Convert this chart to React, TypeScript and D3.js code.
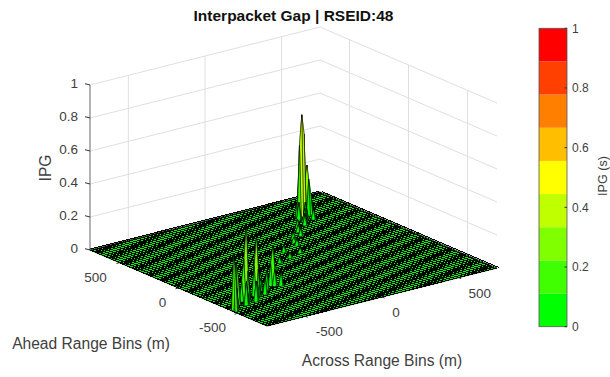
import React from "react";
import * as d3 from "d3";

const TITLE = "Interpacket Gap | RSEID:48";
const RANGE_TICKS = [-500, 0, 500];
const Z_TICKS = [0, 0.2, 0.4, 0.6, 0.8, 1];
const COLORS = ["#00ff00", "#40ff00", "#80ff00", "#bfff00", "#ffff00", "#ffbf00", "#ff8000", "#ff4000", "#ff0000"];
const BIN_SIZE = 15;
const MESH_SIZE = 24;
const EXTENT = 750;

// non-zero surface samples
const peakAcross = [
  433, 443, 423, 433, 433, 423, 443, 413, 453, 403, 413, 453,
  477, 487, 467, 477, 477, 497, 457, 487, 507,
  440, 420, 460, 400,
  308, 200, 153, 33, -5, -84, 257, 373, -180, 290, 170, 90,
  -591, -581, -601, -591, -591, -571, -611,
  -498, -488, -508, -498, -498, -478,
  -336, -326, -346, -336, -336,
  -750, -740, -740, -750,
  -672, -662, -682, -672,
  -630, -620, -560, -550, -530, -450, -440, -400, -390, -300, -290, -700, -650, -520, -420,
];
const peakAhead = [
  499, 499, 499, 509, 489, 489, 489, 489, 509, 479, 509, 479,
  505, 505, 505, 515, 495, 495, 495, 525, 505,
  460, 450, 440, 440,
  377, 262, 160, 113, 24, 5, 277, 387, -79, 330, 210, 60,
  -358, -358, -358, -348, -368, -358, -358,
  -330, -330, -330, -320, -340, -330,
  -256, -256, -256, -246, -266,
  -469, -469, -459, -459,
  -394, -394, -394, -384,
  -420, -400, -400, -300, -380, -350, -280, -300, -220, -280, -200, -440, -330, -270, -250,
];
const peakValue = [
  0.62, 0.5, 0.44, 0.36, 0.3, 0.22, 0.2, 0.14, 0.15, 0.1, 0.12, 0.08,
  0.3, 0.22, 0.2, 0.18, 0.22, 0.12, 0.15, 0.1, 0.08,
  0.1, 0.07, 0.06, 0.05,
  0.05, 0.04, 0.035, 0.04, 0.03, 0.035, 0.045, 0.06, 0.03, 0.04, 0.03, 0.03,
  0.45, 0.36, 0.25, 0.2, 0.18, 0.12, 0.12,
  0.36, 0.26, 0.18, 0.14, 0.16, 0.1,
  0.24, 0.16, 0.13, 0.1, 0.1,
  0.35, 0.22, 0.12, 0.15,
  0.26, 0.16, 0.12, 0.1,
  0.14, 0.1, 0.12, 0.07, 0.1, 0.1, 0.07, 0.12, 0.08, 0.08, 0.06, 0.12, 0.08, 0.1, 0.07,
];

const W = 610, H = 377;
const LEFT = { x: 90, y: 250 }, BACK = { x: 320, y: 192 }, RIGHT = { x: 497, y: 268 };
const zPx = d3.scaleLinear().domain([0, 1]).range([0, 165]);
const aScale = d3.scaleLinear().domain([-EXTENT, EXTENT]).range([0, 1]);
const bScale = d3.scaleLinear().domain([EXTENT, -EXTENT]).range([0, 1]);
function proj(a: number, b: number, z = 0): [number, number] {
  const u = aScale(a), v = bScale(b);
  return [
    LEFT.x + u * (BACK.x - LEFT.x) + v * (RIGHT.x - BACK.x),
    LEFT.y + u * (BACK.y - LEFT.y) + v * (RIGHT.y - BACK.y) - zPx(z),
  ];
}
const bar = d3.scaleLinear().domain([0, 1]).range([326.7, 28.3]);
const colorOf = (v: number) => COLORS[Math.min(COLORS.length - 1, Math.floor(v * COLORS.length))];
const line = d3.line();

const n = Math.round((2 * EXTENT) / BIN_SIZE);
const snap = (v: number) => Math.max(0, Math.min(n, Math.round((v + EXTENT) / BIN_SIZE)));
const heights = new Map<string, number>();
peakValue.forEach((v, k) => {
  const key = snap(peakAcross[k]) + "," + snap(peakAhead[k]);
  heights.set(key, Math.max(v, heights.get(key) ?? 0));
});
const zAt = (i: number, j: number) => heights.get(i + "," + j) ?? 0;
const pos = (i: number) => -EXTENT + i * BIN_SIZE;

function buildGrid() {
  const p = d3.path();
  const m = Math.round((2 * EXTENT) / MESH_SIZE);
  for (let i = 0; i <= m; i++) {
    const t = -EXTENT + i * MESH_SIZE;
    const [x0, y0] = proj(t, -EXTENT), [x1, y1] = proj(t, EXTENT);
    p.moveTo(x0, y0); p.lineTo(x1, y1);
    const [x2, y2] = proj(-EXTENT, t), [x3, y3] = proj(EXTENT, t);
    p.moveTo(x2, y2); p.lineTo(x3, y3);
  }
  return p.toString();
}
function buildCells() {
  const seen = new Set<string>();
  const cells: { d: string; fill: string; order: number }[] = [];
  heights.forEach((_, key) => {
    const [vi, vj] = key.split(",").map(Number);
    for (let i = vi - 1; i <= vi; i++) for (let j = vj - 1; j <= vj; j++) {
      const k = i + "," + j;
      if (i < 0 || j < 0 || i >= n || j >= n || seen.has(k)) continue;
      seen.add(k);
      const zs = [zAt(i, j), zAt(i + 1, j), zAt(i + 1, j + 1), zAt(i, j + 1)];
      const pts = [
        proj(pos(i), pos(j), zs[0]), proj(pos(i + 1), pos(j), zs[1]),
        proj(pos(i + 1), pos(j + 1), zs[2]), proj(pos(i), pos(j + 1), zs[3]),
      ] as [number, number][];
      cells.push({
        d: line(pts)! + "Z",
        fill: colorOf(d3.mean(zs)! * 1.3),
        order: proj(pos(i) + BIN_SIZE / 2, pos(j) + BIN_SIZE / 2)[1],
      });
    }
  });
  return cells.sort((p, q) => p.order - q.order);
}

const FONT = "'Liberation Sans', Arial, sans-serif";
const GRAY = "#404040";
const GRID = "#dfdfdf";
const AHEAD_LABEL_DX = [-25, -16, -24];
const ACROSS_LABEL_DX = [24, 14, 21];

export default function App() {
  const corners = [proj(-EXTENT, EXTENT), proj(EXTENT, EXTENT), proj(EXTENT, -EXTENT), proj(-EXTENT, -EXTENT)] as [number, number][];
  return (
    <svg width={W} height={H} style={{ position: "absolute", left: 0, top: 0, background: "#fff" }} fontFamily={FONT}>
      {/* walls */}
      {Z_TICKS.slice(1).map((z) => (
        <path key={z} fill="none" stroke={GRID} d={line([proj(-EXTENT, EXTENT, z), proj(EXTENT, EXTENT, z), proj(EXTENT, -EXTENT, z)])!} />
      ))}
      {RANGE_TICKS.map((t) => (
        <g key={t}>
          <path stroke={GRID} d={line([proj(t, EXTENT, 0), proj(t, EXTENT, 1)])!} />
          <path stroke={GRID} d={line([proj(EXTENT, t, 0), proj(EXTENT, t, 1)])!} />
        </g>
      ))}
      {/* surface */}
      <path d={line(corners)! + "Z"} fill="#00ff00" stroke="#111" strokeWidth={0.8} />
      <path d={buildGrid()} fill="none" stroke="#000" strokeWidth={1} shapeRendering="crispEdges" />
      {buildCells().map((c, k) => (
        <path key={k} d={c.d} fill={c.fill} stroke="#000" strokeWidth={0.5} />
      ))}
      {/* z axis */}
      <path stroke="#666" strokeWidth={1} d={line([proj(-EXTENT, EXTENT, 0), proj(-EXTENT, EXTENT, 1)])!} />
      {Z_TICKS.map((z) => {
        const [x, y] = proj(-EXTENT, EXTENT, z);
        return (
          <g key={z}>
            <path stroke="#333" d={line([[x, y], [x - 5, y - 1.3]])!} />
            <text x={x - 12} y={y - 2} dy="0.36em" textAnchor="end" fontSize={13.5} fill={GRAY}>{z}</text>
          </g>
        );
      })}
      {/* floor ticks */}
      {RANGE_TICKS.map((t, k) => {
        const [ax, ay] = proj(-EXTENT, t), [cx, cy] = proj(t, -EXTENT);
        return (
          <g key={t} fontSize={13.5} fill={GRAY} textAnchor="middle">
            <path stroke="#333" d={line([[ax, ay], [ax - 3, ay + 0.8]])!} />
            <path stroke="#333" d={line([[cx, cy], [cx + 2.5, cy + 1]])!} />
            <text x={ax + AHEAD_LABEL_DX[k]} y={ay + 14} dy="0.36em">{t}</text>
            <text x={cx + ACROSS_LABEL_DX[k]} y={cy + 15} dy="0.36em">{t}</text>
          </g>
        );
      })}
      <text x={293.5} y={15} dy="0.36em" textAnchor="middle" fontSize={15.5} fontWeight="bold" fill="#111">{TITLE}</text>
      <text transform="translate(45,168) rotate(-90)" dy="0.36em" textAnchor="middle" fontSize={15.6} fill={GRAY}>IPG</text>
      <text x={91} y={343} dy="0.36em" textAnchor="middle" fontSize={15.6} fill={GRAY}>Ahead Range Bins (m)</text>
      <text x={382} y={360} dy="0.36em" textAnchor="middle" fontSize={15.6} fill={GRAY}>Across Range Bins (m)</text>
      {/* colorbar */}
      {COLORS.map((c, k) => (
        <rect key={c} x={539} width={28} y={bar((k + 1) / COLORS.length)} height={bar(k / COLORS.length) - bar((k + 1) / COLORS.length)} fill={c} />
      ))}
      <rect x={539} y={28.3} width={28} height={298.4} fill="none" stroke="#555" strokeWidth={0.8} />
      {Z_TICKS.map((z) => (
        <g key={z}>
          <path stroke="#333" d={`M564.5,${bar(z)}H567`} />
          <text x={572} y={bar(z)} dy="0.36em" fontSize={12} fill={GRAY}>{z}</text>
        </g>
      ))}
      <text transform="translate(602,176) rotate(-90)" dy="0.36em" textAnchor="middle" fontSize={12.6} fill={GRAY}>IPG (s)</text>
    </svg>
  );
}
